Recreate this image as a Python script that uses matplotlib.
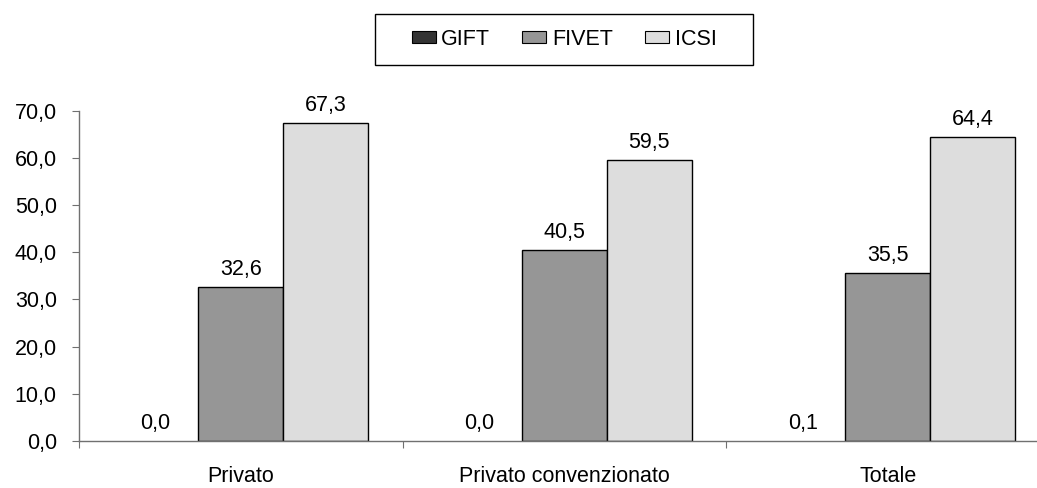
import numpy as np
import matplotlib.pyplot as plt
from matplotlib.patches import Patch, Rectangle

plt.rcParams['font.family'] = ['Liberation Sans', 'DejaVu Sans']

categories = ['Privato', 'Privato convenzionato', 'Totale']
series = ['GIFT', 'FIVET', 'ICSI']
gift = [0.0, 0.0, 0.1]
fivet = [32.6, 40.5, 35.5]
icsi = [67.3, 59.5, 64.4]
yticks = [0, 10, 20, 30, 40, 50, 60, 70]

colors = ['#333333', '#969696', '#dddddd']
values = [gift, fivet, icsi]
fs = 15.5
W, H = 1037, 488

fig = plt.figure(figsize=(W / 100, H / 100), dpi=100)
# the category axis runs a little past the right edge of the figure
ax = fig.add_axes([79 / W, 47 / H, 970.5 / W, 330.5 / H])

x = np.arange(len(categories))
width = 0.263
for i, (vals, col) in enumerate(zip(values, colors)):
    pos = x + (i - 1) * width
    lws = [1.0 if v >= 0.5 else 0.0 for v in vals]
    ax.bar(pos, vals, width, color=col, edgecolor='black', linewidth=lws, zorder=2)
    for p, v in zip(pos, vals):
        ax.annotate(f'{v:.1f}'.replace('.', ','), (p, v), xytext=(0, 5),
                    textcoords='offset points', ha='center', va='bottom',
                    fontsize=fs, annotation_clip=False)

ax.set_xlim(-0.5, len(categories) - 0.5)
ax.set_ylim(0, 70)
ax.set_yticks(yticks)
ax.set_yticklabels([f'{t:.1f}'.replace('.', ',') for t in yticks], fontsize=fs)

# category labels centred, tick marks on the boundaries
ax.set_xticks(np.arange(len(categories) + 1) - 0.5)
ax.set_xticklabels([])
ax.set_xticks(x, minor=True)
ax.set_xticklabels(categories, minor=True, fontsize=fs)
ax.tick_params(axis='x', which='minor', length=0, pad=18)
ax.tick_params(axis='x', which='major', length=5, color='#707070', direction='out')
ax.tick_params(axis='y', length=5, color='#707070', direction='out', pad=11)

for s in ['top', 'right']:
    ax.spines[s].set_visible(False)
for s in ['left', 'bottom']:
    ax.spines[s].set_color('#707070')
    ax.spines[s].set_linewidth(1.0)

handles = [Patch(facecolor=c, edgecolor='black', linewidth=0.8, label=n)
           for c, n in zip(colors, series)]
leg = fig.legend(handles=handles, loc='center', bbox_to_anchor=(564 / W, 1 - 39.5 / H),
                 ncol=3, fontsize=fs, frameon=False, handlelength=1.12,
                 handleheight=0.5, handletextpad=0.25, columnspacing=1.5,
                 borderpad=0, borderaxespad=0)
fig.add_artist(Rectangle((375 / W, 1 - 65 / H), 378 / W, 51 / H, transform=fig.transFigure,
                         facecolor='none', edgecolor='black', linewidth=1.0))

fig.savefig('out.png', dpi=100)
